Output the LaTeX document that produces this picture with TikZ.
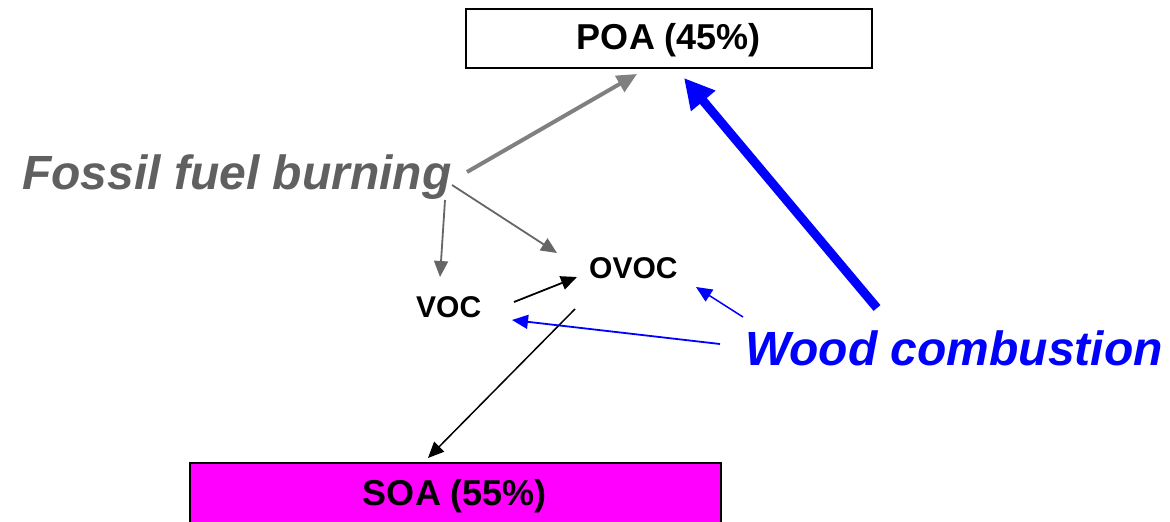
\documentclass[tikz,border=0pt]{standalone}
\usepackage{fontspec}
\setmainfont{Liberation Sans}
\usetikzlibrary{arrows.meta}
\definecolor{fossilgray}{HTML}{606060}
\definecolor{arrgray}{HTML}{808080}
\definecolor{thingray}{HTML}{666666}
\definecolor{woodblue}{HTML}{0000FF}
\definecolor{soamag}{HTML}{FF00FF}
\tikzset{
  box/.style={draw=black, line width=1.2pt, inner sep=0pt},
  boxtext/.style={font=\fontsize{36}{40}\selectfont\bfseries, inner sep=0pt},
  smalltext/.style={font=\fontsize{30}{34}\selectfont\bfseries, inner sep=0pt, anchor=base west},
  bigtext/.style={font=\fontsize{48}{56}\selectfont\bfseries\itshape, inner sep=0pt, anchor=base west},
  thinarrow/.style={-{Triangle[length=16pt,width=14pt]}, line width=1.8pt},
  midarrow/.style={-{Triangle[length=20pt,width=18pt]}, line width=4pt},
  thickarrow/.style={-{Triangle[length=30pt,width=30pt]}, line width=9pt},
}
\begin{document}
\begin{tikzpicture}[x=1pt,y=-1pt]
\useasboundingbox (0,0) rectangle (1170,522);
% boxes
\draw[box, fill=white] (466,9) rectangle (872,68);
\node[boxtext] (poa) at (669,40) {POA (45\%)};
\draw[box, fill=soamag] (190,463) rectangle (721,540);
\node[boxtext] (soa) at (455,496) {SOA (55\%)};
% labels
\node[bigtext, text=fossilgray] (fossil) at (22,189) {Fossil fuel burning};
\node[bigtext, text=woodblue] (wood) at (745,365) {Wood combustion};
\node[smalltext] (voc) at (416,317) {VOC};
\node[smalltext] (ovoc) at (589,278) {OVOC};
% connector end points
\coordinate (f1) at (467,172);
\coordinate (p1) at (637,74);
\coordinate (f2) at (452,185);
\coordinate (o1) at (557,253);
\coordinate (f3) at (445,200);
\coordinate (v1) at (440,277);
\coordinate (v2) at (514,302);
\coordinate (o2) at (577,277);
\coordinate (o3) at (575,309);
\coordinate (s1) at (428,458);
\coordinate (w1) at (720,344);
\coordinate (v3) at (512,320);
\coordinate (w2) at (743,317);
\coordinate (o4) at (696,287);
\coordinate (w3) at (877,308);
\coordinate (p2) at (684,78);
% connectors
\draw[midarrow, draw=arrgray, fill=arrgray] (f1) -- (p1);
\draw[thinarrow, draw=thingray, fill=thingray] (f2) -- (o1);
\draw[thinarrow, draw=thingray, fill=thingray] (f3) -- (v1);
\draw[thinarrow, draw=black, fill=black] (v2) -- (o2);
\draw[thinarrow, line width=1.5pt, draw=black, fill=black] (o3) -- (s1);
\draw[thinarrow, draw=woodblue, fill=woodblue] (w1) -- (v3);
\draw[thinarrow, line width=1.5pt, draw=woodblue, fill=woodblue] (w2) -- (o4);
\draw[thickarrow, draw=woodblue, fill=woodblue] (w3) -- (p2);
\end{tikzpicture}
\end{document}
